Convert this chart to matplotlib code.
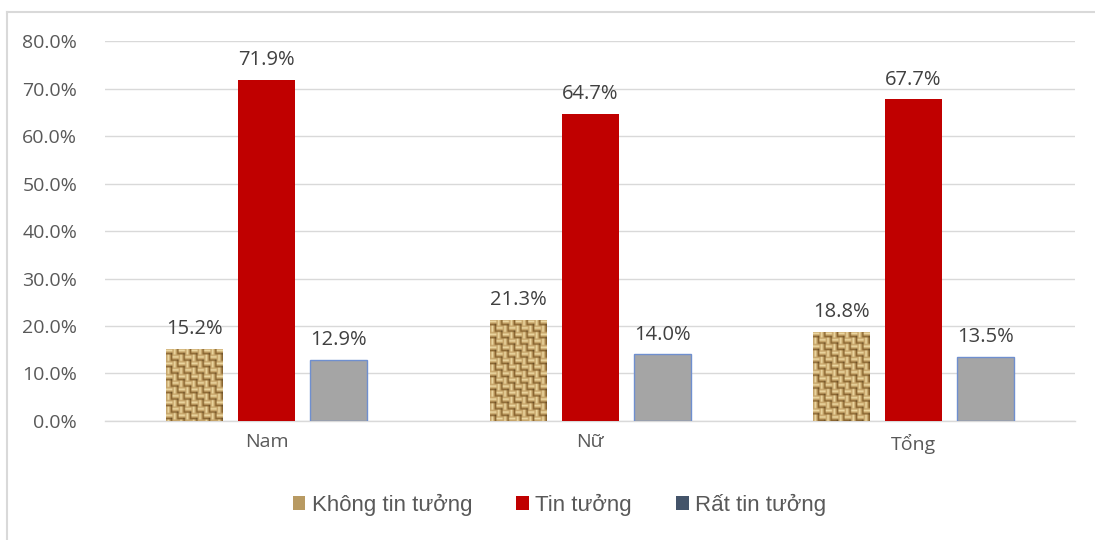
import numpy as np
import matplotlib.pyplot as plt
from matplotlib.patches import Patch
from matplotlib.lines import Line2D

groups = ["Nam", "Nữ", "Tổng"]
series_names = ["Không tin tưởng", "Tin tưởng", "Rất tin tưởng"]
khong_tin = [15.2, 21.3, 18.8]
tin_tuong = [71.9, 64.7, 67.7]
rat_tin = [12.9, 14.0, 13.5]
y_ticks = [0, 10, 20, 30, 40, 50, 60, 70, 80]

plt.rcParams["font.family"] = ["Open Sans", "DejaVu Sans"]
TEXT = "#595959"
GRID = "#d9d9d9"


def burlap(h, w):
    # woven sack look: alternating horizontal / vertical thread blocks
    yy, xx = np.mgrid[0:h, 0:w]
    light = np.array([0.93, 0.85, 0.64])
    mid = np.array([0.78, 0.65, 0.42])
    dark = np.array([0.42, 0.31, 0.15])
    cell = ((yy // 4) + (xx // 4)) % 2
    img = np.where(cell[..., None] == 0,
                   np.where((yy % 2 == 0)[..., None], mid, light),
                   np.where((xx % 2 == 0)[..., None], mid, light))
    img[(yy % 4 == 3) & (cell == 0)] = dark * 1.3
    img[(xx % 4 == 3) & (cell == 1)] = dark * 1.3
    knots = ((yy % 8 == 3) & (xx % 8 == 3)) | ((yy % 8 == 7) & (xx % 8 == 7))
    img[knots] = dark
    return np.clip(img, 0, 1)


fig = plt.figure(figsize=(10.95, 5.4), dpi=100)
ax = fig.add_axes([0.0959, 0.2204, 0.886, 0.7036])

x = np.arange(len(groups))
w = 0.176
off = 0.223

b1 = ax.bar(x - off, khong_tin, w, color="none", zorder=3)
b2 = ax.bar(x, tin_tuong, w, color="#C00000", zorder=3)
b3 = ax.bar(x + off, rat_tin, w, color="#A5A5A5", edgecolor="#6F8FCF",
            linewidth=1, zorder=3)

for bar in b1:
    bx, by = bar.get_x(), bar.get_y()
    bw, bh = bar.get_width(), bar.get_height()
    rows = int(round(bh * 4.75 / 1.6))
    tex = burlap(rows, 36)
    im = ax.imshow(tex, extent=[bx, bx + bw, by, by + bh], aspect="auto",
                   interpolation="bilinear", zorder=3)
    im.set_clip_path(bar)

for bars, vals in [(b1, khong_tin), (b2, tin_tuong), (b3, rat_tin)]:
    for bar, v in zip(bars, vals):
        ax.text(bar.get_x() + bar.get_width() / 2, v + 2.0, f"{v:.1f}%",
                ha="center", va="bottom", fontsize=14.5, color="#404040")

ax.set_xlim(-0.5, 2.5)
ax.set_ylim(0, 80)
ax.set_yticks(y_ticks)
ax.set_yticklabels([f"{t:.1f}%" for t in y_ticks], fontsize=14, color=TEXT)
ax.set_xticks(x)
ax.set_xticklabels(groups, fontsize=14, color=TEXT)
ax.tick_params(axis="both", length=0)
ax.tick_params(axis="y", pad=20)
ax.tick_params(axis="x", pad=9)
ax.yaxis.grid(True, color=GRID, linewidth=1, zorder=0)
ax.set_axisbelow(True)
for s in ["top", "right", "left"]:
    ax.spines[s].set_visible(False)
ax.spines["bottom"].set_color(GRID)
ax.spines["bottom"].set_linewidth(1)

handles = [
    Patch(facecolor="#B89A62"),
    Patch(facecolor="#C00000"),
    Patch(facecolor="#44546A"),
]
fig.legend(handles, series_names, loc="center", bbox_to_anchor=(0.511, 0.065),
           ncol=3, frameon=False, prop={"family": "Liberation Sans", "size": 16},
           labelcolor=TEXT, handlelength=0.55, handleheight=0.55,
           handletextpad=0.3, columnspacing=2.0)

# light frame on the top and left edges
fig.add_artist(Line2D([7 / 1095, 1], [1 - 12 / 540] * 2, color=GRID,
                      linewidth=1.5, transform=fig.transFigure))
fig.add_artist(Line2D([7 / 1095] * 2, [0, 1 - 12 / 540], color=GRID,
                      linewidth=1.5, transform=fig.transFigure))

fig.savefig("out.png", dpi=100)
